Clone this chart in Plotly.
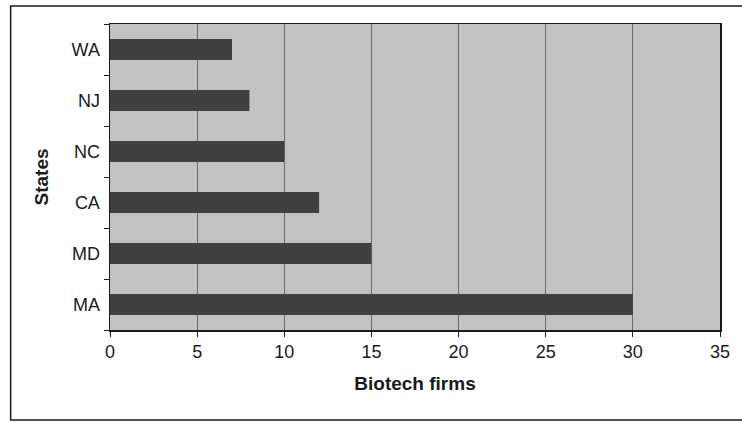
import plotly.graph_objects as go

states = ["MA", "MD", "CA", "NC", "NJ", "WA"]
firms = [30, 15, 12, 10, 8, 7]
x_ticks = [0, 5, 10, 15, 20, 25, 30, 35]

FONT = "Arial, Liberation Sans, sans-serif"

fig = go.Figure(
    go.Bar(
        x=firms,
        y=states,
        orientation="h",
        marker=dict(color="#404040", line=dict(width=0)),
        hoverinfo="skip",
    )
)

W, H = 742, 423
ml, mr, mt, mb = 110, 18, 24, 93
pw, ph = W - ml - mr, H - mt - mb

def px_x(p):
    return (p - ml) / pw

def px_y(p):
    return (H - mb - p) / ph

fig.update_layout(
    width=W,
    height=H,
    margin=dict(l=ml, r=mr, t=mt, b=mb, pad=0),
    paper_bgcolor="white",
    plot_bgcolor="#c2c2c2",
    bargap=0.59,
    showlegend=False,
    font=dict(family=FONT, size=18, color="#1a1a1a"),
    xaxis=dict(
        range=[0, 35],
        tickvals=x_ticks,
        ticktext=[str(v) for v in x_ticks],
        showgrid=True,
        gridcolor="#6b6b6b",
        gridwidth=1,
        zeroline=False,
        showline=True,
        linecolor="#1a1a1a",
        linewidth=1.5,
        mirror=True,
        ticks="outside",
        ticklen=5,
        tickcolor="#1a1a1a",
        tickfont=dict(size=18),
        title=dict(text="<b>Biotech firms</b>", font=dict(size=19), standoff=15),
    ),
    yaxis=dict(
        type="category",
        categoryorder="array",
        categoryarray=states,
        showgrid=False,
        zeroline=False,
        showline=True,
        linecolor="#1a1a1a",
        linewidth=1.5,
        mirror=True,
        ticks="outside",
        tickson="boundaries",
        ticklen=5,
        tickcolor="#1a1a1a",
        tickfont=dict(size=18),
        ticklabelstandoff=5,
        title=dict(text="<b>States</b>", font=dict(size=19), standoff=18),
    ),
    shapes=[
        dict(
            type="rect",
            xref="paper",
            yref="paper",
            x0=px_x(10),
            x1=px_x(760),
            y0=px_y(420),
            y1=px_y(6),
            line=dict(color="#1a1a1a", width=1.5),
            fillcolor="rgba(0,0,0,0)",
            layer="below",
        )
    ],
)

fig.write_html(
    "out.html",
    config={"displayModeBar": False, "staticPlot": True},
    post_script="document.body.style.margin='0';document.body.style.overflow='hidden';",
)
